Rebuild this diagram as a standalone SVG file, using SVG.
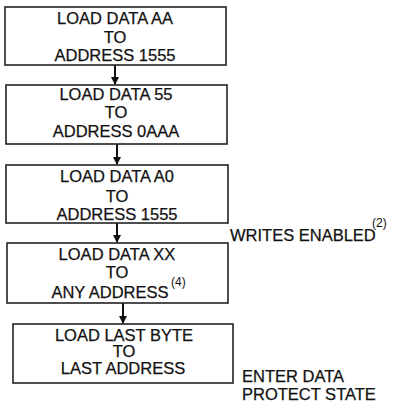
<svg xmlns="http://www.w3.org/2000/svg" width="407" height="405" viewBox="0 0 407 405">
<defs>
<style>
.box{fill:#fff;stroke:#222;stroke-width:1.6}
.t{font-family:"Liberation Sans",Arial,sans-serif;font-size:16.5px;fill:#111;stroke:#111;stroke-width:0.25;text-anchor:middle}
.l{font-family:"Liberation Sans",Arial,sans-serif;font-size:16.5px;fill:#111;stroke:#111;stroke-width:0.25}
.s{font-family:"Liberation Sans",Arial,sans-serif;font-size:12px;fill:#111}
.c{stroke:#111;stroke-width:2;fill:none}
</style>
<marker id="ah" markerWidth="8" markerHeight="8" refX="7" refY="4" orient="auto" markerUnits="userSpaceOnUse">
<path d="M0,0 L8,4 L0,8 Z" fill="#111"/>
</marker>
</defs>
<rect width="407" height="405" fill="#fff"/>
<g id="connectors">
<line class="c" x1="115" y1="65" x2="115" y2="84" marker-end="url(#ah)"/>
<line class="c" x1="117" y1="144" x2="117" y2="164" marker-end="url(#ah)"/>
<line class="c" x1="117" y1="223" x2="117" y2="242" marker-end="url(#ah)"/>
<line class="c" x1="123" y1="303" x2="123" y2="323" marker-end="url(#ah)"/>
</g>
<g id="node1">
<rect class="box" x="5" y="7" width="221" height="58"/>
<text class="t" x="115" y="24">LOAD DATA AA</text>
<text class="t" x="115" y="43">TO</text>
<text class="t" x="115" y="61">ADDRESS 1555</text>
</g>
<g id="node2">
<rect class="box" x="6" y="85" width="221" height="59"/>
<text class="t" x="116" y="100">LOAD DATA 55</text>
<text class="t" x="116" y="118">TO</text>
<text class="t" x="116" y="137">ADDRESS 0AAA</text>
</g>
<g id="node3">
<rect class="box" x="6" y="165" width="222" height="58"/>
<text class="t" x="117" y="182">LOAD DATA A0</text>
<text class="t" x="117" y="202">TO</text>
<text class="t" x="117" y="220">ADDRESS 1555</text>
</g>
<g id="node4">
<rect class="box" x="7" y="243" width="221" height="60"/>
<text class="t" x="117" y="260">LOAD DATA XX</text>
<text class="t" x="117" y="278">TO</text>
<text class="t" x="110" y="298">ANY ADDRESS</text>
<text class="s" x="171" y="286">(4)</text>
</g>
<g id="node5">
<rect class="box" x="13" y="324" width="220" height="59"/>
<text class="t" x="124" y="341">LOAD LAST BYTE</text>
<text class="t" x="124" y="357">TO</text>
<text class="t" x="123" y="374">LAST ADDRESS</text>
</g>
<g id="label-writes">
<text class="l" x="230" y="241">WRITES ENABLED</text>
<text class="s" x="372" y="227">(2)</text>
</g>
<g id="label-protect">
<text class="l" x="242" y="382">ENTER DATA</text>
<text class="l" x="242" y="400">PROTECT STATE</text>
</g>
</svg>
